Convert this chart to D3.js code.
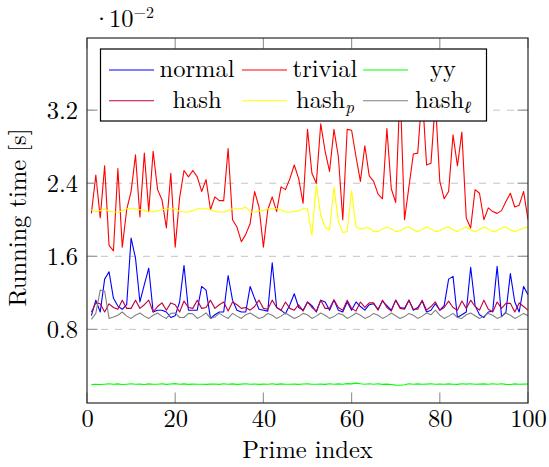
<!DOCTYPE html>
<html><head><meta charset="utf-8">
<script src="https://cdn.jsdelivr.net/npm/d3@7/dist/d3.min.js"></script>
<style>body{margin:0;background:#fff}svg{display:block}</style>
</head><body><svg id="c" width="549" height="467"></svg>
<script>
const primeIndex = d3.range(1, 101);
const xTicks = [0, 20, 40, 60, 80, 100];
const yTicks = [0.8, 1.6, 2.4, 3.2];
const yTickLabels = ["0.8", "1.6", "2.4", "3.2"];

const normal = [0.95,1.12,0.99,1.35,1.43,1.14,1.055,1.02,1.07,1.80,1.58,1.10,1.29,1.47,0.99,1.01,1.01,0.99,0.93,0.95,
1.10,1.50,1.01,1.01,1.01,1.27,1.23,0.92,0.96,0.99,0.99,1.39,1.12,1.01,0.99,0.99,1.27,1.14,1.02,1.01,
1.00,1.53,1.04,1.01,0.97,1.07,1.19,1.04,1.01,1.10,1.06,0.99,1.12,1.10,1.01,1.12,1.01,0.99,1.10,1.01,
1.10,1.05,1.01,1.07,1.08,1.02,1.11,1.06,1.01,1.12,1.04,1.03,1.12,1.01,1.04,1.11,0.99,1.01,1.08,1.01,
1.06,1.35,1.38,0.93,0.96,0.99,1.48,1.06,0.96,0.93,0.99,1.00,1.49,0.94,0.99,1.41,1.10,0.99,1.27,1.18];

const trivial = [2.07,2.49,2.02,2.59,1.72,1.66,2.56,1.70,2.11,2.31,2.71,2.03,2.73,2.09,2.75,2.33,2.22,1.91,2.51,1.70,
2.24,2.54,2.47,2.54,2.47,2.31,2.44,2.11,2.25,2.21,2.21,2.78,2.00,1.92,1.76,1.84,1.96,2.31,2.14,1.70,
2.11,2.25,2.09,2.36,2.33,2.45,2.60,2.45,2.18,2.99,2.51,2.40,3.05,2.75,2.53,2.99,2.69,2.00,2.99,2.98,
2.69,2.42,2.81,2.48,2.42,2.28,2.23,3.00,2.34,2.19,3.45,2.00,2.36,2.72,2.73,3.40,2.60,2.62,3.30,2.42,
2.23,2.31,2.93,2.59,2.96,2.02,1.91,2.33,2.29,2.00,2.13,2.09,2.07,2.10,2.20,2.29,2.14,2.16,2.31,2.00];

const yy = [0.195,0.198,0.196,0.200,0.205,0.199,0.203,0.197,0.200,0.204,0.199,0.201,0.197,0.203,0.199,0.200,0.205,0.198,0.202,0.206,
0.199,0.203,0.198,0.201,0.200,0.199,0.198,0.201,0.202,0.198,0.204,0.200,0.203,0.198,0.201,0.204,0.199,0.202,0.198,0.201,
0.199,0.204,0.198,0.203,0.200,0.199,0.201,0.198,0.202,0.203,0.200,0.199,0.201,0.198,0.204,0.200,0.203,0.199,0.206,0.203,
0.212,0.204,0.200,0.205,0.199,0.204,0.198,0.201,0.197,0.190,0.188,0.194,0.204,0.200,0.203,0.199,0.201,0.204,0.200,0.202,
0.199,0.203,0.200,0.198,0.204,0.201,0.205,0.199,0.201,0.203,0.200,0.204,0.200,0.205,0.198,0.197,0.203,0.200,0.201,0.202];

const hash = [0.99,1.09,1.08,0.99,1.08,1.04,1.02,1.12,1.03,1.03,1.12,1.03,1.07,1.12,0.99,1.05,1.09,1.01,1.09,1.07,
0.99,1.11,1.04,1.03,1.12,1.03,1.04,1.12,1.03,1.07,1.10,1.00,1.10,1.07,1.03,1.04,1.01,1.05,1.12,1.03,
1.02,1.12,1.04,1.01,1.10,1.03,1.01,1.07,1.00,1.10,1.04,1.00,1.12,1.03,1.03,1.125,1.04,1.01,1.12,1.03,
1.00,1.10,1.04,1.09,1.09,1.01,1.12,1.04,1.00,1.12,1.03,1.02,1.12,1.02,1.02,1.12,1.01,1.05,1.10,1.01,
1.04,1.11,1.04,1.01,1.11,1.03,1.12,1.05,1.01,1.12,1.02,0.99,1.10,1.03,1.085,1.085,0.99,1.09,1.05,1.01];

const hashP = [2.11,2.09,2.10,2.12,2.09,2.085,2.08,2.10,2.12,2.12,2.12,2.11,2.10,2.085,2.09,2.095,2.11,2.12,2.12,2.12,
2.09,2.085,2.085,2.10,2.12,2.12,2.12,2.11,2.09,2.085,2.085,2.10,2.12,2.12,2.12,2.14,2.085,2.085,2.095,2.10,
2.12,2.12,2.12,2.11,2.085,2.085,2.09,2.10,2.12,2.12,1.83,2.38,2.05,1.92,1.89,2.36,1.98,1.86,1.87,2.32,
1.92,1.90,1.91,1.91,1.87,1.87,1.90,1.92,1.90,1.87,1.88,1.91,1.92,1.89,1.87,1.89,1.92,1.90,1.87,1.88,
1.91,1.92,1.89,1.87,1.90,1.92,1.89,1.87,1.89,1.92,1.90,1.87,1.88,1.91,1.92,1.89,1.87,1.89,1.91,1.92];

const hashL = [0.91,0.975,1.23,1.22,0.92,0.935,0.955,0.99,0.945,0.92,0.955,0.98,0.945,0.92,0.955,0.98,0.945,0.92,0.975,0.98,
0.93,0.93,0.975,0.97,0.92,0.945,0.98,0.92,0.935,0.975,0.945,0.92,0.975,
0.945,0.92,0.96,0.98,0.95,0.92,0.935,0.975,0.955,0.92,0.945,0.98,0.95,0.92,0.94,0.975,0.96,0.92,0.945,0.98,0.955,0.92,0.94,0.975,0.96,0.92,0.945,0.98,0.955,0.92,0.94,0.975,0.955,
0.92,0.945,0.98,0.95,0.92,0.94,0.975,0.955,0.92,0.945,0.98,0.96,1.01,0.955,0.92,0.945,0.975,0.93,0.92,0.96,0.98,0.95,0.92,0.945,0.975,0.955,0.92,0.94,0.98,0.955,0.92,0.945,0.975,0.95];

const seriesColors = ["#0000ff","#ff0000","#00ff00","#bf0040","#ffff00","#808080"];
const seriesData = [normal, trivial, yy, hash, hashP, hashL];

const FONT = "'Latin Modern Roman'";
const FS = 24.5;
const L = 87, R = 528, T = 38, B = 403;
const x = d3.scaleLinear().domain([0, 100]).range([L, R]);
const y = d3.scaleLinear().domain([-0.006, 3.99]).range([B, T]);

const svg = d3.select("#c");
svg.append("rect").attr("width", 549).attr("height", 467).attr("fill", "#fff");

svg.append("g").selectAll("line").data(yTicks).join("line")
  .attr("x1", L).attr("x2", R).attr("y1", d => y(d)).attr("y2", d => y(d))
  .attr("stroke", "#c4c4c4").attr("stroke-width", 1).attr("stroke-dasharray", "7,7");

svg.append("clipPath").attr("id", "clip").append("rect")
  .attr("x", L).attr("y", T).attr("width", R - L).attr("height", B - T);

const line = d3.line().x((d, i) => x(primeIndex[i])).y(d => y(d));
const plots = svg.append("g").attr("clip-path", "url(#clip)");
seriesData.forEach((s, k) => {
  plots.append("path").datum(s).attr("d", line)
    .attr("fill", "none").attr("stroke", seriesColors[k])
    .attr("stroke-width", 1.1).attr("stroke-linejoin", "round");
});

const tk = 10.5;
const tg = svg.append("g").attr("stroke", "#999").attr("stroke-width", 1.2);
xTicks.forEach(v => {
  tg.append("line").attr("x1", x(v)).attr("x2", x(v)).attr("y1", B).attr("y2", B - tk);
  tg.append("line").attr("x1", x(v)).attr("x2", x(v)).attr("y1", T).attr("y2", T + tk);
});
yTicks.forEach(v => {
  tg.append("line").attr("y1", y(v)).attr("y2", y(v)).attr("x1", L).attr("x2", L + tk);
  tg.append("line").attr("y1", y(v)).attr("y2", y(v)).attr("x1", R).attr("x2", R - tk);
});

svg.append("rect").attr("x", L).attr("y", T).attr("width", R - L).attr("height", B - T)
  .attr("fill", "none").attr("stroke", "#2a2a2a").attr("stroke-width", 1.2);

const xAxis = d3.axisBottom(x).tickValues(xTicks).tickSize(0).tickPadding(0).tickFormat(d3.format("d"));
const gx = svg.append("g").attr("transform", `translate(0,${B})`).call(xAxis);
gx.select(".domain").remove();
gx.selectAll("text").style("font-family", FONT).style("font-size", FS + "px")
  .attr("fill", "#000").attr("dy", null).attr("y", 24);

const yAxis = d3.axisLeft(y).tickValues(yTicks).tickSize(0).tickPadding(0)
  .tickFormat((d, i) => yTickLabels[i]);
const gy = svg.append("g").attr("transform", `translate(${L - 9},0)`).call(yAxis);
gy.select(".domain").remove();
gy.selectAll("text").style("font-family", FONT).style("font-size", FS + "px")
  .attr("fill", "#000").attr("dy", "0.33em").attr("x", 0);

svg.append("text").attr("x", (L + R) / 2).attr("y", 458).attr("text-anchor", "middle")
  .style("font-family", FONT).style("font-size", FS + "px").text("Prime index");
svg.append("text").attr("transform", `translate(26,${(T + B) / 2 - 3}) rotate(-90)`)
  .style("font-family", FONT).attr("text-anchor", "middle").style("font-size", FS + "px").text("Running time [s]");

const sf = svg.append("text").attr("x", 92).attr("y", 27).style("font-family", FONT).style("font-size", FS + "px");
sf.append("tspan").text("·");
sf.append("tspan").attr("dx", -2).text("10");
sf.append("tspan").attr("dy", -9).style("font-size", "16px").text("−2");

const lg = svg.append("g");
lg.append("rect").attr("x", 100.5).attr("y", 49).attr("width", 386).attr("height", 72)
  .attr("fill", "#fff").attr("stroke", "#000").attr("stroke-width", 1.2);
const colLine = [[109, 154], [242, 287], [363, 408]];
const colText = [197, 325, 443];
const rowY = [70, 100.7];
const labels = [["normal"], ["trivial"], ["yy"], ["hash"], ["hash", "p"], ["hash", "ℓ"]];
labels.forEach((lab, k) => {
  const c = k % 3, r = Math.floor(k / 3);
  lg.append("line").attr("x1", colLine[c][0]).attr("x2", colLine[c][1])
    .attr("y1", rowY[r]).attr("y2", rowY[r])
    .attr("stroke", seriesColors[k]).attr("stroke-width", 1.1);
  const t = lg.append("text").attr("x", colText[c]).attr("y", rowY[r] + 7)
    .style("font-family", FONT).attr("text-anchor", "middle").style("font-size", FS + "px");
  t.append("tspan").text(lab[0]);
  if (lab[1]) t.append("tspan").attr("dy", 5).style("font-size", "17px").style("font-style", "italic").text(lab[1]);
});
</script></body></html>
